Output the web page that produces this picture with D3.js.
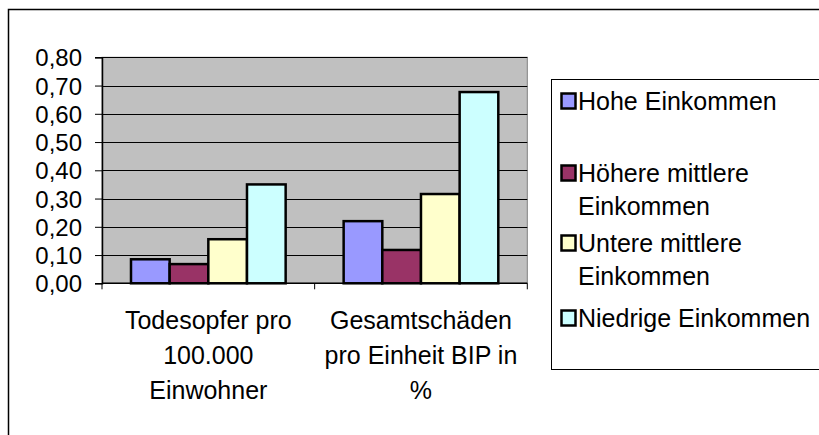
<!DOCTYPE html>
<html><head><meta charset="utf-8">
<script src="https://cdn.jsdelivr.net/npm/d3@7"></script>
<style>body{margin:0;background:#fff}svg{display:block}text{font-family:"Liberation Sans",Arial,sans-serif;fill:#000}</style>
</head><body>
<svg id="c" width="819" height="435"></svg>
<script>
const categories = [["Todesopfer pro","100.000","Einwohner"],["Gesamtschäden","pro Einheit BIP in","%"]];
const seriesNames = [["Hohe Einkommen"],["Höhere mittlere","Einkommen"],["Untere mittlere","Einkommen"],["Niedrige Einkommen"]];
const seriesValues = [
  [0.085, 0.22],
  [0.068, 0.118],
  [0.156, 0.316],
  [0.35, 0.677]
];
const colors = ["#9999FF","#993366","#FFFFCC","#CCFFFF"];
const yTicks = [0,0.1,0.2,0.3,0.4,0.5,0.6,0.7,0.8];

const svg = d3.select("#c");
const fs = 24, fsL = 25;
// outer frame
svg.append("rect").attr("x",8.5).attr("y",9.5).attr("width",840).attr("height",460)
  .attr("fill","none").attr("stroke","#000").attr("stroke-width",1.5);

const L=102, R=527.3, T=57.3, B=283.3;
const x0 = d3.scaleBand().domain([0,1]).range([L,R]).paddingInner(0).paddingOuter(0);
const bw = x0.bandwidth()/5.5;
const x1 = d3.scaleBand().domain([0,1,2,3]).range([0.75*bw, 4.75*bw]);
const y = d3.scaleLinear().domain([0,0.8]).range([B,T]);

svg.append("rect").attr("x",L).attr("y",T).attr("width",R-L).attr("height",B-T)
  .attr("fill","#C0C0C0").attr("stroke","#808080").attr("stroke-width",1);

// gridlines
svg.append("g").selectAll("line").data(yTicks.slice(1)).join("line")
  .attr("x1",L).attr("x2",R).attr("y1",d=>Math.round(y(d))+0.5).attr("y2",d=>Math.round(y(d))+0.5)
  .attr("stroke","#000").attr("stroke-width",1);

// bars
const g = svg.append("g");
seriesValues.forEach((vals,s)=>{
  g.selectAll(null).data(vals).join("rect")
    .attr("x",(d,i)=>x0(i)+x1(s))
    .attr("y",d=>y(d))
    .attr("width",x1.bandwidth())
    .attr("height",d=>B-y(d))
    .attr("fill",colors[s]).attr("stroke","#000").attr("stroke-width",2.5);
});

// y axis
const fmt = d=>d3.format(".2f")(d).replace(".",",");
const ya = svg.append("g").attr("transform",`translate(${L},0)`)
  .call(d3.axisLeft(y).tickValues(yTicks).tickFormat(fmt).tickSize(7).tickPadding(13));
ya.select(".domain").attr("stroke","#000").attr("stroke-width",1.5);
ya.selectAll("text").attr("font-size",fs).style("font-family","Liberation Sans, Arial, sans-serif").attr("fill","#000").attr("dy","0.36em");

// x axis
const xa = svg.append("g").attr("transform",`translate(0,${B})`);
xa.append("line").attr("x1",L).attr("x2",R).attr("y1",0).attr("y2",0).attr("stroke","#000").attr("stroke-width",1.5);
xa.selectAll("line.t").data([L, x0(1), R]).join("line").attr("class","t")
  .attr("x1",d=>d).attr("x2",d=>d).attr("y1",0).attr("y2",6).attr("stroke","#000").attr("stroke-width",1);
categories.forEach((lines,i)=>{
  const cx = x0(i)+x0.bandwidth()/2;
  lines.forEach((t,j)=>{
    xa.append("text").attr("x",cx).attr("y",46+j*35).attr("text-anchor","middle").attr("font-size",fsL).text(t);
  });
});

// legend
svg.append("rect").attr("x",551.5).attr("y",79.5).attr("width",300).attr("height",290)
  .attr("fill","#fff").attr("stroke","#000").attr("stroke-width",1);
const entryY = [110, 182, 252, 327];
seriesNames.forEach((lines,s)=>{
  svg.append("rect").attr("x",561.5).attr("y",entryY[s]-16.5).attr("width",14).attr("height",15)
    .attr("fill",colors[s]).attr("stroke","#000").attr("stroke-width",2.5);
  lines.forEach((t,j)=>{
    svg.append("text").attr("x",578).attr("y",entryY[s]+j*33).attr("font-size",fsL).text(t);
  });
});
</script>
</body></html>
